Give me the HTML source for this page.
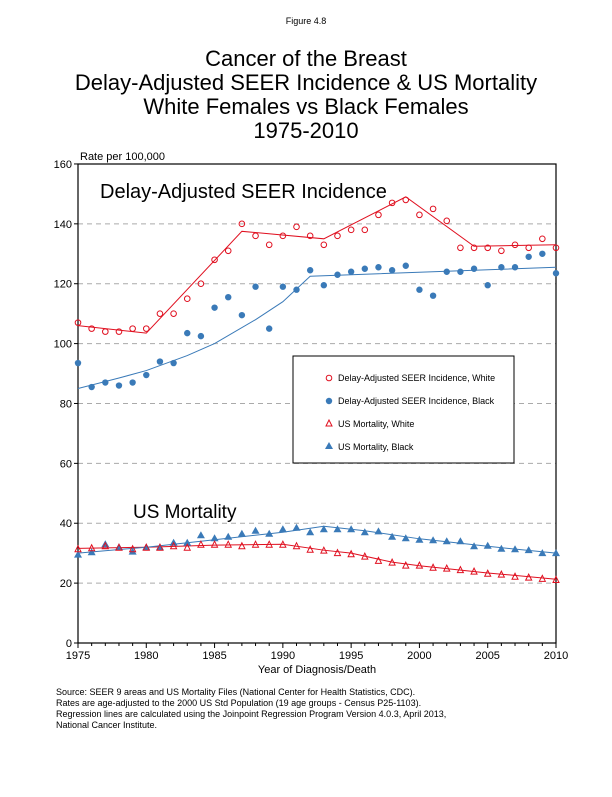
<!DOCTYPE html><html><head><style>body{margin:0;background:#fff}svg text{font-family:"Liberation Sans",Arial,sans-serif}</style></head><body>
<svg id="s" width="612" height="792" xmlns="http://www.w3.org/2000/svg">
<text x="306" y="24" font-size="9" text-anchor="middle">Figure 4.8</text>
<g font-size="22" text-anchor="middle">
<text x="306" y="66">Cancer of the Breast</text>
<text x="306" y="90">Delay-Adjusted SEER Incidence &amp; US Mortality</text>
<text x="306" y="114">White Females vs Black Females</text>
<text x="306" y="138">1975-2010</text></g>
<text x="80" y="160" font-size="11">Rate per 100,000</text>
<g id="grid"></g>
<rect x="78" y="164" width="478" height="479" fill="none" stroke="#000" stroke-width="1.2"/>
<text x="100" y="198" font-size="20">Delay-Adjusted SEER Incidence</text>
<text x="133" y="518" font-size="19">US Mortality</text>
<g id="d"></g>
<rect x="293" y="356" width="221" height="107" fill="#fff" stroke="#000"/>
<g font-size="9">
<circle cx="329" cy="378" r="2.8" fill="none" stroke="#e01020"/><text x="338" y="381">Delay-Adjusted SEER Incidence, White</text>
<circle cx="329" cy="401" r="3.2" fill="#3a7ab8"/><text x="338" y="404">Delay-Adjusted SEER Incidence, Black</text>
<path d="M326 426 l3 -6 l3 6z" fill="none" stroke="#e01020"/><text x="338" y="427">US Mortality, White</text>
<path d="M325 449 l4 -7 l4 7z" fill="#3a7ab8"/><text x="338" y="450">US Mortality, Black</text></g>
<text x="317" y="673" font-size="11" text-anchor="middle">Year of Diagnosis/Death</text>
<g font-size="9"><text x="56" y="695">Source: SEER 9 areas and US Mortality Files (National Center for Health Statistics, CDC).</text>
<text x="56" y="706">Rates are age-adjusted to the 2000 US Std Population (19 age groups - Census P25-1103).</text>
<text x="56" y="717">Regression lines are calculated using the Joinpoint Regression Program Version 4.0.3, April 2013,</text>
<text x="56" y="728">National Cancer Institute.</text></g>
</svg>
<script>
const NS="http://www.w3.org/2000/svg",s=document.getElementById('s'),g=document.getElementById('grid'),d=document.getElementById('d');
const X=y=>78+(y-1975)*13.657,Y=v=>643-v*2.994;
function el(p,t,a,txt){const e=document.createElementNS(NS,t);for(const k in a)e.setAttribute(k,a[k]);if(txt!=null)e.textContent=txt;p.appendChild(e);return e;}
for(let v=0;v<=160;v+=20){const y=Y(v);if(v>0&&v<160)el(g,'line',{x1:78,x2:556,y1:y,y2:y,stroke:'#aaa','stroke-dasharray':'5,4'});
el(g,'line',{x1:74,x2:78,y1:y,y2:y,stroke:'#000'});el(g,'text',{x:72,y:y+4,'font-size':11,'text-anchor':'end'},v);}
for(let yr=1975;yr<=2010;yr++){const x=X(yr),m=yr%5==0;el(g,'line',{x1:x,x2:x,y1:643,y2:643+(m?5:3),stroke:'#000'});if(m)el(g,'text',{x:x,y:659,'font-size':11,'text-anchor':'middle'},yr);}
const wi=[107,105,104,104,105,105,110,110,115,120,128,131,140,136,133,136,139,136,133,136,138,138,143,147,148,143,145,141,132,132,132,131,133,132,135,132];
const bi=[93.5,85.5,87,86,87,89.5,94,93.5,103.5,102.5,112,115.5,109.5,119,105,119,118,124.5,119.5,123,124,125,125.5,124.5,126,118,116,124,124,125,119.5,125.5,125.5,129,130,123.5];
const wm=[31.5,31.8,32.5,32,31.5,32,32,32.5,32,33,33,33,32.5,33,33,33,32.5,31.3,31,30.2,29.8,29,27.6,27,26,26,25.3,25,24.5,24,23.3,23,22.3,22,21.6,21.2];
const bm=[29.5,30.3,33,32,30.5,32,32,33.5,33.5,36,35,35.5,36.5,37.5,36.5,38,38.5,37,38,38,38,37,37.3,35.5,35,34.5,34.3,34,34,32.3,32.5,31.5,31.3,31,30,30];
const R='#e01020',B='#3a7ab8';
function line(pts,c){el(d,'polyline',{points:pts.map(p=>X(p[0])+','+Y(p[1])).join(' '),fill:'none',stroke:c,'stroke-width':1});}
line([[1975,106],[1980,103.5],[1987,137.5],[1993,135],[1999,149],[2004,132.5],[2010,133]],R);
line([[1975,85],[1978,88.5],[1980,91],[1983,96],[1985,100],[1988,108],[1990,114],[1992,122.5],[2010,125.5]],B);
line([[1975,31.6],[1980,32],[1985,32.7],[1990,33],[1993,31],[1995,30],[1998,27],[2000,25.8],[2005,23.4],[2010,21.3]],R);
line([[1975,30],[1980,32],[1985,34.5],[1990,37],[1993,39],[1996,37.5],[2000,34.8],[2005,32.3],[2010,30]],B);
for(let i=0;i<36;i++){const x=X(1975+i);
el(d,'circle',{cx:x,cy:Y(wi[i]),r:2.8,fill:'none',stroke:R});
el(d,'circle',{cx:x,cy:Y(bi[i]),r:3.2,fill:B});
let y=Y(bm[i]);el(d,'path',{d:`M${x-4} ${y+3} l4 -7 l4 7z`,fill:B});
y=Y(wm[i]);el(d,'path',{d:`M${x-3} ${y+3} l3 -6 l3 6z`,fill:'none',stroke:R});}
</script></body></html>
